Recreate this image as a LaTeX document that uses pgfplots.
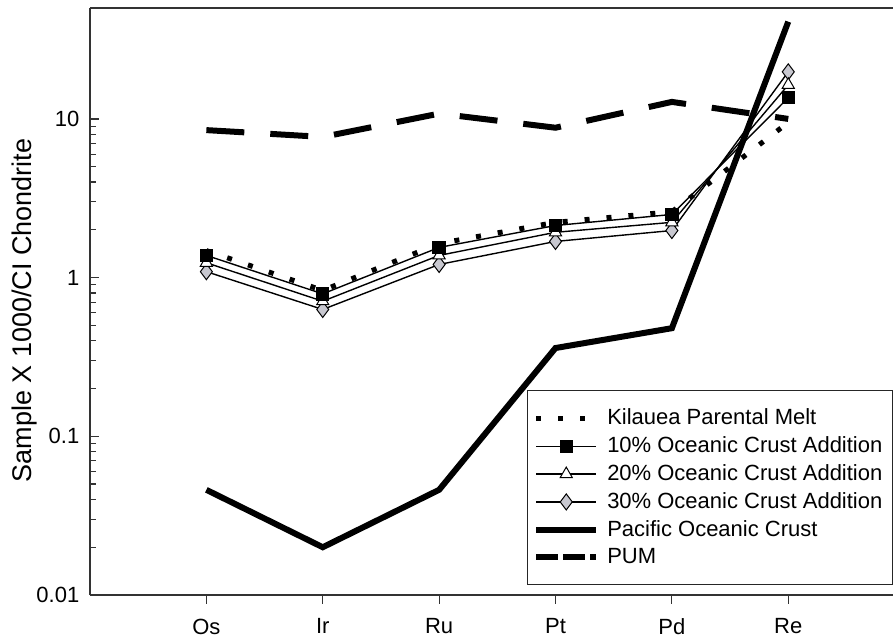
\documentclass[border=0pt]{standalone}
\usepackage{pgfplots}
\pgfplotsset{compat=1.18}
\usepackage{fontspec}
\setmainfont{Liberation Sans}
\definecolor{diafill}{RGB}{200,200,208}
\begin{document}
\fontsize{11}{13}\selectfont
\begin{tikzpicture}
\begin{axis}[
  scale only axis, width=401.5pt, height=293.5pt,
  ymode=log, ymin=0.01, ymax=50,
  xmin=-1, xmax=5.9,
  xtick={0,1,2,3,4,5}, xticklabels={Os,Ir,Ru,Pt,Pd,Re},
  axis x line=box, axis y line=left,
  x axis line style={-}, y axis line style={-},
  xtick pos=left,
  xtick align=outside, ytick align=inside,
  major tick length=4.5pt, minor tick length=3.2pt,
  x tick style={line width=0.6pt, black!80}, y tick style={line width=0.6pt, black!80},
  axis line style={line width=0.8pt, black!80},
  yticklabels={0.01,0.1,1,10},
  ytick={0.01,0.1,1,10},
  /pgf/number format/assume math mode=true,
  ticklabel style={font=\fontsize{11}{13}\selectfont},
  xticklabel style={yshift=-3.5pt},
  yticklabel style={xshift=-1.5pt},
  ylabel={Sample X 1000/CI Chondrite},
  every axis y label/.style={at={(axis description cs:0,0.485)}, xshift=-32.5pt, rotate=90, anchor=center,
    font=\fontsize{13.5}{16}\selectfont},
  legend cell align=left,
  legend style={at={(1,0.017)}, anchor=south east, draw=black!85, line width=0.6pt,
    inner xsep=3pt, inner ysep=7pt, row sep=0.3pt, column sep=2pt,
    font=\fontsize{11}{13}\selectfont},
  legend image code/.code={\draw[mark repeat=2,mark phase=2,#1] plot coordinates {(0pt,0pt)(15pt,0pt)(30pt,0pt)};},
]
% PUM
\addplot[forget plot, black, line width=3pt, dash pattern=on 19pt off 13pt] coordinates {
 (0,8.5) (1,7.7) (2,10.8) (3,8.8) (4,12.8) (5,10.0)};
% Pacific Oceanic Crust
\addplot[forget plot, black, line width=3pt] coordinates {
 (0,0.046) (1,0.020) (2,0.046) (3,0.36) (4,0.48) (5,41)};
% Kilauea
\addplot[forget plot, black, line width=2.5pt, dash pattern=on 2.5pt off 8.5pt] coordinates {
 (0,1.48) (1,0.83) (2,1.64) (3,2.23) (4,2.6) (5,9.5)};
% 30%
\addplot[forget plot, black, line width=0.7pt, mark=diamond*, mark size=4pt, mark options={fill=diafill, draw=black, line width=0.5pt}] coordinates {
 (0,1.09) (1,0.63) (2,1.21) (3,1.69) (4,1.98) (5,19.8)};
% 20%
\addplot[forget plot, black, line width=0.7pt, mark=triangle*, mark size=3.5pt, mark options={fill=white, draw=black, line width=0.5pt}] coordinates {
 (0,1.24) (1,0.71) (2,1.38) (3,1.93) (4,2.23) (5,16.4)};
% 10%
\addplot[forget plot, black, line width=0.7pt, mark=square*, mark size=3pt, mark options={fill=black}] coordinates {
 (0,1.38) (1,0.79) (2,1.55) (3,2.13) (4,2.5) (5,13.6)};

\addlegendimage{black, line width=2.5pt, dash pattern=on 2.5pt off 8.5pt}
\addlegendentry{Kilauea Parental Melt}
\addlegendimage{black, line width=0.7pt, mark=square*, mark size=3pt, mark options={fill=black}}
\addlegendentry{10\% Oceanic Crust Addition}
\addlegendimage{black, line width=0.7pt, mark=triangle*, mark size=3.5pt, mark options={fill=white, draw=black, line width=0.5pt}}
\addlegendentry{20\% Oceanic Crust Addition}
\addlegendimage{black, line width=0.7pt, mark=diamond*, mark size=4pt, mark options={fill=diafill, draw=black, line width=0.5pt}}
\addlegendentry{30\% Oceanic Crust Addition}
\addlegendimage{black, line width=3pt}
\addlegendentry{Pacific Oceanic Crust}
\addlegendimage{black, line width=3pt, dash pattern=on 11pt off 2.5pt}
\addlegendentry{PUM}
\end{axis}
\pgfresetboundingbox
\useasboundingbox ([xshift=-45pt,yshift=-21pt]current axis.south west) rectangle ([xshift=0.5pt,yshift=4pt]current axis.north east);
\end{tikzpicture}
\end{document}
